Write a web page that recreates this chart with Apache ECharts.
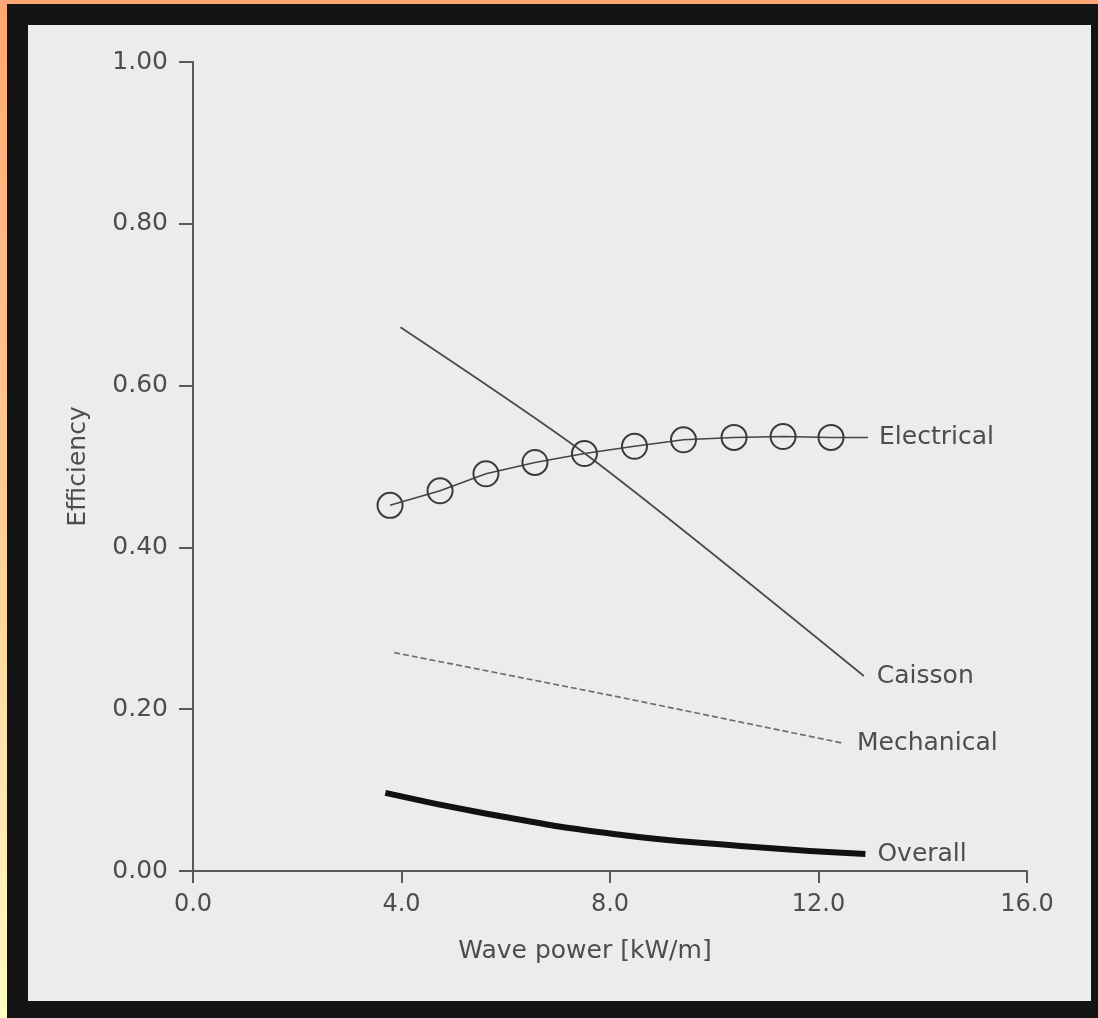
<!DOCTYPE html>
<html>
<head>
<meta charset="utf-8">
<script src="https://cdn.jsdelivr.net/npm/echarts@6/dist/echarts.min.js"></script>
<style>
  html, body { margin: 0; padding: 0; width: 1098px; height: 1018px; overflow: hidden; }
  body { background: linear-gradient(to bottom, #ffa774 0%, #ffc98f 45%, #fffbc4 100%); position: relative; }
  #frame { position: absolute; left: 7px; top: 4px; width: 1091px; height: 1014px; background: #141414; }
  #paper { position: absolute; left: 28px; top: 25px; width: 1063px; height: 976px; background: #ececec; }
  #chart { position: absolute; left: 0; top: 0; width: 1098px; height: 1018px; }
</style>
</head>
<body>
<div id="frame"></div>
<div id="paper"></div>
<div id="chart"></div>
<script>
// Data
const xTicks = [0, 4, 8, 12, 16];
const yTicks = [0, 0.2, 0.4, 0.6, 0.8, 1.0];

const electricalX = [3.78, 4.74, 5.62, 6.56, 7.51, 8.47, 9.41, 10.38, 11.32, 12.24, 12.95];
const electricalY = [0.452, 0.470, 0.491, 0.505, 0.516, 0.525, 0.533, 0.536, 0.537, 0.536, 0.536];

const caissonX = [3.98, 7.60, 12.87];
const caissonY = [0.672, 0.512, 0.241];

const mechanicalX = [3.86, 8.10, 12.47];
const mechanicalY = [0.270, 0.216, 0.158];

const overallX = [3.69, 5.66, 8.07, 10.5, 12.9];
const overallY = [0.0965, 0.0705, 0.0458, 0.031, 0.021];

const seriesNames = ['Electrical', 'Caisson', 'Mechanical', 'Overall'];

function pairs(xs, ys) { return xs.map((x, i) => [x, ys[i]]); }

const FONT = 'DejaVu Sans';
const TXT = '#4d4d4d';

const elecData = pairs(electricalX, electricalY).map((p, i, arr) =>
  i === arr.length - 1 ? { value: p, symbol: 'none' } : { value: p });

const chart = echarts.init(document.getElementById('chart'), null, { renderer: 'canvas' });
chart.setOption({
  animation: false,
  backgroundColor: 'transparent',
  grid: { left: 193, right: 71, top: 62, bottom: 147, containLabel: false },
  xAxis: {
    type: 'value', min: xTicks[0], max: xTicks[xTicks.length - 1], interval: 4,
    name: 'Wave power [kW/m]', nameLocation: 'middle', nameGap: 68,
    nameTextStyle: { fontFamily: FONT, fontSize: 25, color: TXT, padding: [0, 50, 0, 0] },
    axisLine: { lineStyle: { color: '#585858', width: 2 } },
    axisTick: { show: true, length: 12, lineStyle: { color: '#585858', width: 2 } },
    axisLabel: { fontFamily: FONT, fontSize: 24, color: TXT, margin: 22,
      formatter: v => v.toFixed(1) },
    splitLine: { show: false }
  },
  yAxis: {
    type: 'value', min: yTicks[0], max: yTicks[yTicks.length - 1], interval: 0.2,
    name: 'Efficiency', nameLocation: 'middle', nameGap: 102,
    nameTextStyle: { fontFamily: FONT, fontSize: 25, color: TXT },
    axisLine: { show: true, lineStyle: { color: '#585858', width: 2 } },
    axisTick: { show: true, length: 14, lineStyle: { color: '#585858', width: 2 } },
    axisLabel: { fontFamily: FONT, fontSize: 25, color: TXT, margin: 25,
      formatter: v => v.toFixed(2) },
    splitLine: { show: false }
  },
  series: [
    {
      name: seriesNames[0], type: 'line', data: elecData,
      symbol: 'circle', symbolSize: 25,
      itemStyle: { color: 'rgba(0,0,0,0)', borderColor: '#3a3a3a', borderWidth: 2 },
      lineStyle: { color: '#444', width: 1.5 },
      endLabel: { show: true, formatter: seriesNames[0], distance: 11,
        fontFamily: FONT, fontSize: 25, color: TXT }
    },
    {
      name: seriesNames[1], type: 'line', data: pairs(caissonX, caissonY),
      symbol: 'none', smooth: 0.25,
      lineStyle: { color: '#4a4a4a', width: 1.8 },
      endLabel: { show: true, formatter: seriesNames[1], distance: 13,
        fontFamily: FONT, fontSize: 25, color: TXT }
    },
    {
      name: seriesNames[2], type: 'line', data: pairs(mechanicalX, mechanicalY),
      symbol: 'none',
      lineStyle: { color: '#6e6e6e', width: 1.7, type: [6, 3] },
      endLabel: { show: true, formatter: seriesNames[2], distance: 14,
        fontFamily: FONT, fontSize: 25, color: TXT }
    },
    {
      name: seriesNames[3], type: 'line', data: pairs(overallX, overallY),
      symbol: 'none', smooth: true,
      lineStyle: { color: '#111', width: 6 },
      endLabel: { show: true, formatter: seriesNames[3], distance: 12,
        fontFamily: FONT, fontSize: 25, color: TXT }
    }
  ]
});
</script>
</body>
</html>
